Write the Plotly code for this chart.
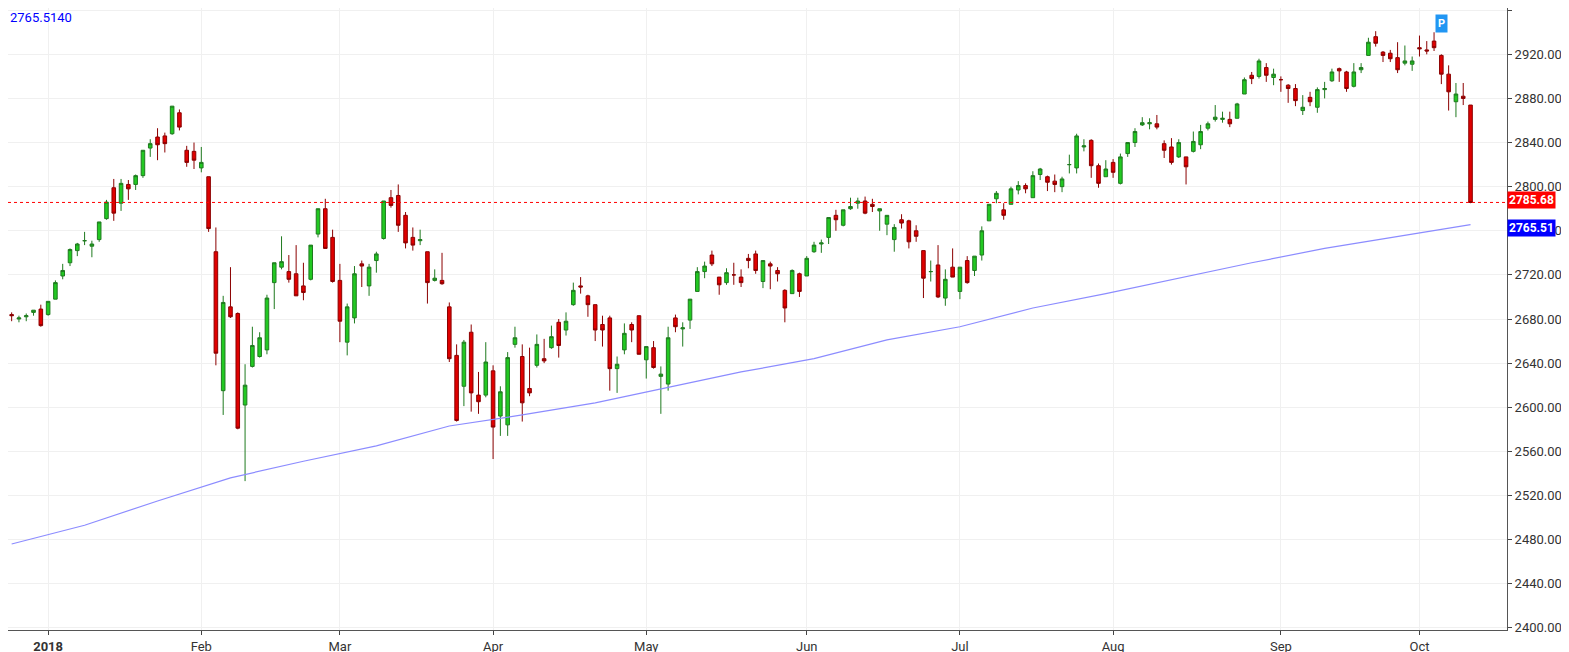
import plotly.graph_objects as go

dates = ["2017-12-22","2017-12-26","2017-12-27","2017-12-28","2017-12-29",
"2018-01-02","2018-01-03","2018-01-04","2018-01-05","2018-01-08","2018-01-09","2018-01-10","2018-01-11","2018-01-12","2018-01-16","2018-01-17","2018-01-18","2018-01-19","2018-01-22","2018-01-23","2018-01-24","2018-01-25","2018-01-26","2018-01-29","2018-01-30","2018-01-31",
"2018-02-01","2018-02-02","2018-02-05","2018-02-06","2018-02-07","2018-02-08","2018-02-09","2018-02-12","2018-02-13","2018-02-14","2018-02-15","2018-02-16","2018-02-20","2018-02-21","2018-02-22","2018-02-23","2018-02-26","2018-02-27","2018-02-28",
"2018-03-01","2018-03-02","2018-03-05","2018-03-06","2018-03-07","2018-03-08","2018-03-09","2018-03-12","2018-03-13","2018-03-14","2018-03-15","2018-03-16","2018-03-19","2018-03-20","2018-03-21","2018-03-22","2018-03-23","2018-03-26","2018-03-27","2018-03-28","2018-03-29",
"2018-04-02","2018-04-03","2018-04-04","2018-04-05","2018-04-06","2018-04-09","2018-04-10","2018-04-11","2018-04-12","2018-04-13","2018-04-16","2018-04-17","2018-04-18","2018-04-19","2018-04-20","2018-04-23","2018-04-24","2018-04-25","2018-04-26","2018-04-27","2018-04-30",
"2018-05-01","2018-05-02","2018-05-03","2018-05-04","2018-05-07","2018-05-08","2018-05-09","2018-05-10","2018-05-11","2018-05-14","2018-05-15","2018-05-16","2018-05-17","2018-05-18","2018-05-21","2018-05-22","2018-05-23","2018-05-24","2018-05-25","2018-05-29","2018-05-30","2018-05-31",
"2018-06-01","2018-06-04","2018-06-05","2018-06-06","2018-06-07","2018-06-08","2018-06-11","2018-06-12","2018-06-13","2018-06-14","2018-06-15","2018-06-18","2018-06-19","2018-06-20","2018-06-21","2018-06-22","2018-06-25","2018-06-26","2018-06-27","2018-06-28","2018-06-29",
"2018-07-02","2018-07-03","2018-07-05","2018-07-06","2018-07-09","2018-07-10","2018-07-11","2018-07-12","2018-07-13","2018-07-16","2018-07-17","2018-07-18","2018-07-19","2018-07-20","2018-07-23","2018-07-24","2018-07-25","2018-07-26","2018-07-27","2018-07-30","2018-07-31",
"2018-08-01","2018-08-02","2018-08-03","2018-08-06","2018-08-07","2018-08-08","2018-08-09","2018-08-10","2018-08-13","2018-08-14","2018-08-15","2018-08-16","2018-08-17","2018-08-20","2018-08-21","2018-08-22","2018-08-23","2018-08-24","2018-08-27","2018-08-28","2018-08-29","2018-08-30","2018-08-31",
"2018-09-04","2018-09-05","2018-09-06","2018-09-07","2018-09-10","2018-09-11","2018-09-12","2018-09-13","2018-09-14","2018-09-17","2018-09-18","2018-09-19","2018-09-20","2018-09-21","2018-09-24","2018-09-25","2018-09-26","2018-09-27","2018-09-28",
"2018-10-01","2018-10-02","2018-10-03","2018-10-04","2018-10-05","2018-10-08","2018-10-09","2018-10-10"]

opens = [2684,2680,2682,2686,2689,
2684,2698,2719,2731,2742,2751,2746,2752,2771,2799,2785,2802,2802,2810,2835,2845,2846,2848,2867,2833,2832,
2817,2809,2741,2615,2691,2685,2602,2637,2646,2652,2713,2727,2723,2721,2710,2716,2757,2780,2754,
2715,2659,2681,2730,2710,2733,2753,2790,2792,2774,2754,2751,2741,2715,2715,2691,2647,2619,2668,2611,2611,
2633,2592,2584,2657,2646,2617,2638,2644,2654,2677,2670,2693,2710,2701,2693,2675,2681,2635,2652,2675,2683,
2643,2654,2628,2621,2681,2671,2679,2705,2723,2738,2718,2713,2720,2718,2735,2739,2714,2730,2724,2706,2703,2721,
2719,2741,2748,2754,2774,2765,2780,2785,2787,2784,2778,2766,2752,2770,2769,2760,2742,2723,2729,2699,2727,
2705,2733,2724,2738,2769,2789,2779,2784,2797,2801,2790,2811,2809,2805,2800,2820,2817,2836,2842,2819,2809,
2822,2803,2830,2840,2856,2857,2857,2839,2836,2827,2827,2832,2838,2853,2861,2861,2861,2862,2884,2901,2900,2908,2899,
2897,2892,2889,2869,2881,2872,2888,2896,2907,2904,2891,2906,2919,2936,2922,2921,2917,2912,2911,
2926,2924,2932,2919,2902,2877,2882,2874]

highs = [2686,2683,2685,2688,2693,
2696,2715,2730,2744,2749,2759,2751,2768,2788,2807,2807,2806,2811,2833,2843,2853,2849,2873,2870,2837,2840,
2836,2809,2763,2701,2727,2686,2639,2673,2668,2702,2731,2755,2738,2747,2731,2747,2780,2789,2761,
2730,2694,2728,2733,2730,2741,2787,2797,2802,2777,2763,2761,2741,2725,2740,2695,2657,2661,2675,2632,2659,
2638,2619,2650,2673,2657,2654,2666,2662,2674,2680,2686,2713,2718,2702,2693,2683,2683,2646,2676,2677,2683,
2655,2660,2637,2673,2684,2677,2698,2727,2732,2742,2718,2726,2731,2725,2739,2742,2733,2732,2727,2707,2725,2722,
2737,2750,2752,2772,2779,2779,2790,2790,2791,2789,2780,2774,2766,2775,2770,2765,2742,2733,2747,2725,2744,
2727,2737,2737,2764,2784,2796,2785,2800,2805,2803,2814,2817,2810,2811,2809,2829,2848,2843,2843,2821,2824,
2825,2830,2840,2853,2863,2862,2865,2842,2844,2843,2827,2850,2856,2859,2874,2868,2868,2876,2899,2904,2916,2912,2907,
2900,2893,2893,2883,2886,2890,2895,2907,2908,2905,2912,2912,2935,2941,2923,2924,2931,2928,2918,
2937,2932,2940,2920,2910,2894,2894,2874]

lows = [2678,2677,2678,2683,2673,
2683,2698,2716,2728,2737,2747,2736,2750,2770,2769,2778,2788,2797,2808,2827,2824,2831,2847,2851,2818,2816,
2813,2759,2638,2593,2681,2580,2533,2636,2645,2648,2689,2725,2713,2701,2697,2715,2754,2744,2713,
2659,2647,2676,2709,2701,2722,2752,2781,2759,2744,2742,2747,2694,2714,2711,2641,2587,2601,2596,2594,2609,
2553,2574,2574,2654,2587,2610,2636,2640,2653,2645,2665,2692,2703,2682,2660,2655,2615,2613,2648,2659,2648,
2626,2635,2594,2615,2668,2655,2671,2705,2717,2728,2702,2711,2711,2709,2726,2721,2708,2707,2714,2677,2703,2700,
2719,2740,2740,2748,2760,2764,2779,2780,2775,2777,2760,2756,2741,2762,2744,2750,2699,2714,2699,2692,2718,
2698,2712,2719,2733,2769,2785,2770,2784,2793,2794,2790,2806,2796,2795,2795,2812,2812,2832,2808,2799,2809,
2808,2802,2827,2836,2855,2852,2852,2826,2820,2826,2802,2831,2834,2851,2859,2858,2854,2862,2884,2893,2898,2895,2892,
2886,2876,2873,2865,2873,2867,2880,2895,2895,2886,2890,2903,2919,2927,2913,2913,2903,2910,2905,
2918,2920,2923,2893,2869,2863,2874,2785]

closes = [2683,2681,2683,2688,2674,
2696,2713,2724,2743,2748,2751,2748,2768,2786,2776,2803,2798,2810,2833,2839,2838,2839,2873,2854,2822,2824,
2822,2762,2649,2695,2682,2581,2620,2656,2663,2699,2731,2732,2716,2701,2704,2747,2780,2744,2714,
2678,2691,2721,2728,2727,2739,2787,2783,2765,2749,2747,2752,2713,2717,2712,2644,2588,2659,2613,2605,2641,
2582,2614,2645,2663,2604,2613,2657,2642,2664,2656,2678,2706,2709,2693,2670,2670,2635,2639,2667,2670,2648,
2655,2636,2630,2663,2673,2672,2698,2723,2728,2730,2711,2722,2720,2713,2733,2724,2733,2728,2721,2690,2724,2705,
2735,2747,2749,2772,2770,2779,2782,2787,2776,2782,2780,2774,2763,2767,2750,2755,2717,2723,2700,2716,2718,
2727,2713,2737,2760,2784,2794,2774,2798,2801,2798,2810,2816,2804,2802,2807,2820,2846,2837,2819,2803,2816,
2813,2827,2840,2850,2858,2858,2854,2833,2822,2840,2818,2841,2850,2857,2863,2862,2857,2875,2897,2898,2914,2901,2902,
2897,2889,2878,2872,2877,2888,2889,2904,2905,2889,2904,2908,2931,2930,2919,2916,2906,2914,2914,
2925,2923,2926,2902,2886,2884,2880,2785.68]

# 200-day moving average, sampled every 10 sessions
ma_dates = dates[0::10] + [dates[-1]]
ma_values = [2476,2493,2515,2536,2551,2565,2583,2593,2604,2618,2632,2644,2661,2673,2690,2703,2717,2731,2744,2755,2765.51]

month_ticks = ["2018-01-02","2018-02-01","2018-03-01","2018-04-02","2018-05-01","2018-06-01","2018-07-02","2018-08-01","2018-09-04","2018-10-01"]
month_labels = ["<b>2018</b>","Feb","Mar","Apr","May","Jun","Jul","Aug","Sep","Oct"]

last_close = 2785.68
last_ma = 2765.51

fig = go.Figure()
fig.add_trace(go.Candlestick(x=dates, open=opens, high=highs, low=lows, close=closes,
                             increasing=dict(line=dict(color="#1f7a1f", width=1), fillcolor="#22c922"),
                             decreasing=dict(line=dict(color="#8b0000", width=1), fillcolor="#e00000"),
                             whiskerwidth=0))
fig.add_trace(go.Scatter(x=ma_dates, y=ma_values, mode="lines",
                         line=dict(color="#8c8cff", width=1.2), hoverinfo="skip"))
fig.add_hline(y=last_close, line=dict(color="red", width=1, dash="dot"))

for val, col, yshift in [(last_close, "red", 2), (last_ma, "blue", -3)]:
    fig.add_annotation(x=1, xref="paper", xanchor="left", y=val, yref="y", yshift=yshift,
                       text="<b>%.2f</b>" % val, showarrow=False, bgcolor=col,
                       font=dict(color="white", size=12), borderpad=1)

fig.add_annotation(x=0, xref="paper", y=1, yref="paper", xanchor="left", yanchor="top",
                   text="2765.5140", showarrow=False, font=dict(color="blue", size=13))
fig.add_annotation(x="2018-10-04", y=2948, text="<b>P</b>", showarrow=False,
                   font=dict(color="white", size=11), bgcolor="#2196f3", borderpad=2)

fig.update_layout(
    width=1569, height=652, template="plotly_white", showlegend=False,
    margin=dict(l=0, r=70, t=0, b=30),
    plot_bgcolor="white", paper_bgcolor="white",
    font=dict(family="Roboto", size=13, color="#333"),
    xaxis=dict(type="category", categoryorder="array", categoryarray=dates,
               range=[-0.5, 205], rangeslider=dict(visible=False),
               tickvals=month_ticks, ticktext=month_labels, showgrid=True,
               gridcolor="#f0f0f0", showline=True, linecolor="#555", ticks="outside",
               ticklen=4, tickangle=0),
    yaxis=dict(side="right", range=[2398, 2962], dtick=40, tick0=2400, tickformat=".2f",
               gridcolor="#f0f0f0", showline=True, linecolor="#555", ticks="outside", ticklen=4),
)

fig.write_html("out.html")
